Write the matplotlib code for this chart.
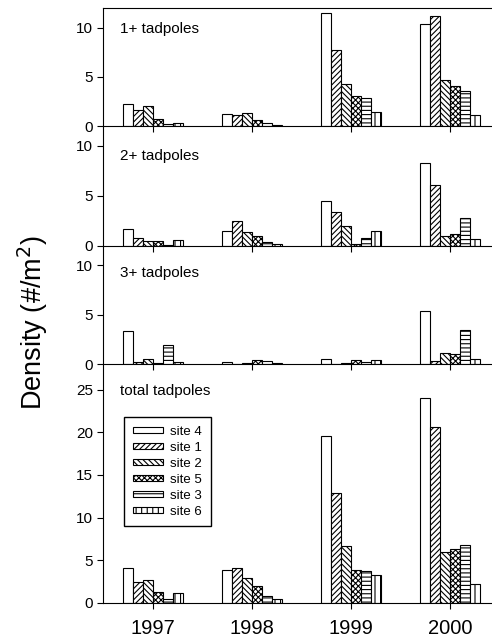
import matplotlib
matplotlib.use("Agg")
import matplotlib.pyplot as plt
import numpy as np

plt.rcParams['font.family'] = ['Liberation Sans', 'DejaVu Sans']
plt.rcParams['hatch.linewidth'] = 0.8

years = ['1997', '1998', '1999', '2000']
sites = ['site 4', 'site 1', 'site 2', 'site 5', 'site 3', 'site 6']
hatches = ['', '//////', '\\\\\\\\\\\\', 'xxxxxx', '----', '|||']

# density (#/m2), one row per site, columns are years
one_plus = [[2.2, 1.25, 11.5, 10.4],
            [1.6, 1.07, 7.7, 11.2],
            [2.05, 1.35, 4.3, 4.7],
            [0.7, 0.6, 3.1, 4.1],
            [0.2, 0.27, 2.8, 3.6],
            [0.3, 0.1, 1.38, 1.1]]
two_plus = [[1.63, 1.5, 4.53, 8.27],
            [0.73, 2.43, 3.33, 6.13],
            [0.47, 1.33, 1.93, 0.97],
            [0.43, 0.93, 0.2, 1.2],
            [0.07, 0.33, 0.73, 2.73],
            [0.53, 0.2, 1.43, 0.63]]
three_plus = [[3.39, 0.27, 0.5, 5.44],
              [0.2, 0.03, 0.02, 0.3],
              [0.57, 0.13, 0.1, 1.1],
              [0.13, 0.4, 0.47, 1.04],
              [1.91, 0.3, 0.2, 3.52],
              [0.23, 0.1, 0.4, 0.5]]
total = [[4.08, 3.84, 19.6, 24.1],
         [2.47, 4.08, 12.86, 20.66],
         [2.63, 2.86, 6.63, 5.96],
         [1.22, 1.92, 3.8, 6.27],
         [0.43, 0.75, 3.73, 6.82],
         [1.1, 0.43, 3.25, 2.24]]

panels = [('1+ tadpoles', one_plus, 12, [0, 5, 10]),
          ('2+ tadpoles', two_plus, 12, [0, 5, 10]),
          ('3+ tadpoles', three_plus, 12, [0, 5, 10]),
          ('total tadpoles', total, 28, [0, 5, 10, 15, 20, 25])]

W, H = 492, 642
fig = plt.figure(figsize=(W / 100, H / 100), dpi=100)

# pixel boxes (top, bottom) for each panel
boxes = [(8, 126), (126, 245.7), (245.7, 364.3), (364.3, 602.7)]
label_pos = [0.826, 0.752, 0.767, 0.889]
left_px, unit_px = 103.3, 99.1

x = np.arange(len(years))
width = 0.1
for i, (name, data, ymax, yt) in enumerate(panels):
    top, bot = boxes[i]
    ax = fig.add_axes([left_px / W, 1 - bot / H, 4 * unit_px / W, (bot - top) / H])
    for j, site in enumerate(sites):
        ax.bar(x + (j - 2.5) * width, data[j], width, color='white',
               edgecolor='black', linewidth=0.8, hatch=hatches[j], label=site)
    ax.set_xlim(-0.5, 3.5)
    ax.set_ylim(0, ymax)
    ax.set_yticks(yt)
    ax.set_xticks(x)
    ax.spines['right'].set_visible(False)
    if i > 0:
        ax.spines['top'].set_visible(False)
    ax.patch.set_alpha(0)
    ax.tick_params(direction='out', length=4, width=0.8, labelsize=11)
    if i < 3:
        ax.set_xticklabels([])
    else:
        ax.set_xticklabels(years, fontsize=14.5)
        ax.tick_params(axis='x', pad=8)
    ax.text(0.042, label_pos[i], name, transform=ax.transAxes,
            fontsize=11, va='center', ha='left')
    if i == 3:
        ax.legend(loc='upper left', bbox_to_anchor=(0.053, 0.778),
                  fontsize=9.5, frameon=True, fancybox=False, edgecolor='black',
                  framealpha=1, handlelength=2.3, handleheight=0.4,
                  labelspacing=0.3, borderaxespad=0, borderpad=0.65,
                  handletextpad=0.55)

fig.text(41.7 / W, 0.497, 'Density (#/m$^2$)', rotation=90, fontsize=19.5,
         rotation_mode='anchor', va='baseline', ha='center')

fig.savefig('out.png', dpi=100)
